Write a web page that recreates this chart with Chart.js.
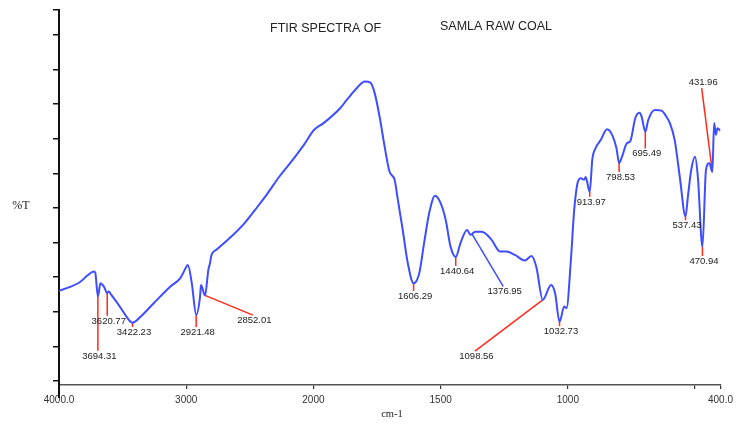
<!DOCTYPE html>
<html>
<head>
<meta charset="utf-8">
<script src="https://cdn.jsdelivr.net/npm/chart.js@4.4.1/dist/chart.umd.min.js"></script>
<style>
  html, body { margin: 0; padding: 0; background: #fff; }
  #wrap { width: 738px; height: 424px; }
</style>
</head>
<body>
<div id="wrap"><canvas id="chart" width="738" height="424"></canvas></div>
<script>
// FTIR spectrum of Samla raw coal
const WAVENUMBER = [
  4000, 3837, 3772, 3726, 3715, 3694.31, 3674, 3648, 3620.77, 3609, 3590, 3513, 3461, 3422.23,
  3357, 3254, 3124, 3046, 2995, 2987, 2956, 2921.48, 2891, 2884, 2852.01, 2826, 2813, 2801,
  2762, 2645, 2541, 2438, 2360, 2269, 2152, 2075, 1998, 1960, 1895, 1869, 1830, 1798, 1776,
  1759, 1740, 1720, 1701, 1681, 1668, 1649, 1629, 1606.29, 1584, 1565, 1545, 1522, 1500, 1480,
  1461, 1440.64, 1422, 1396, 1383, 1364, 1338, 1299, 1267, 1241, 1208, 1169, 1143, 1124,
  1098.56, 1066, 1050, 1032.73, 1014, 1005, 988, 975, 962, 949, 936, 930, 913.97, 904, 891,
  871, 846, 826, 809, 798.53, 787, 768, 755, 735, 719, 710, 695.49, 684, 658, 632, 613, 599,
  580, 560, 537.43, 528, 515, 500, 489, 470.94, 457, 444, 431.96, 425, 418, 412, 400
];
const TRANSMITTANCE = [
  26.0, 28.5, 30.6, 31.6, 31.3, 24.4, 28.2, 27.3, 25.4, 25.8, 24.9, 21.0, 18.1, 16.8,
  18.6, 22.5, 27.3, 29.7, 33.2, 33.5, 28.2, 19.1, 24.4, 27.7, 24.7, 32.1, 34.0, 36.4,
  37.9, 41.7, 45.6, 50.4, 54.2, 59.0, 64.4, 68.2, 72.5, 74.5, 78.8, 81.2, 84.6, 86.5, 86.2,
  83.1, 76.4, 67.7, 60.5, 58.1, 52.3, 43.6, 34.0, 28.2, 31.1, 39.8, 48.5, 53.5, 51.4, 46.5,
  38.8, 35.8, 39.8, 43.6, 42.2, 43.1, 43.1, 40.7, 37.4, 37.4, 36.4, 34.8, 36.1, 33.0,
  23.4, 27.7, 25.3, 17.1, 21.5, 21.0, 35.0, 49.4, 57.1, 58.6, 58.1, 58.9, 54.6, 63.9, 67.3,
  69.6, 72.7, 71.1, 67.3, 63.0, 64.8, 68.7, 69.2, 75.9, 77.5, 76.4, 72.0, 75.4, 78.3, 78.1, 76.4, 74.5,
  69.6, 59.0, 47.5, 53.3, 61.0, 64.8, 59.0, 38.8, 61.0, 62.9, 60.4, 74.5, 71.1, 73.0, 72.3
];

// peak annotations: where the leader starts on the curve and where its label sits
const PEAK_LABELS = ['3694.31', '3620.77', '3422.23', '2921.48', '2852.01', '1606.29', '1440.64',
  '1376.95', '1098.56', '1032.73', '913.97', '798.53', '695.49', '537.43', '470.94', '431.96'];
const PEAK_WN = [3694.31, 3620.77, 3422.23, 2921.48, 2852.01, 1606.29, 1440.64,
  1376.95, 1098.56, 1032.73, 913.97, 798.53, 695.49, 537.43, 470.94, 431.96];
const PEAK_T = [24.4, 25.4, 16.8, 19.1, 24.7, 28.2, 35.8, 42.5, 23.4, 17.1, 54.6, 63.0, 72.0, 47.5, 38.8, 60.4];
const LABEL_WN = [3694.31, 3620.77, 3422.23, 2921.48, 2476, 1606.29, 1440.64,
  1254, 1365, 1032.73, 913.97, 798.53, 695.49, 537.43, 470.94, 474];
const LABEL_T = [8.7, 18.8, 15.6, 15.6, 19.0, 26.0, 33.2, 27.3, 8.6, 15.8, 53.2, 60.4, 67.2, 46.4, 36.1, 84.7];
const LABEL_ABOVE = [false, false, false, false, false, false, false,
  false, false, false, false, false, false, false, false, true];
const LEADER_BLUE = [false, false, false, false, false, false, false,
  true, false, false, false, false, false, false, false, false];

const X_TICK_VALUES = [4000, 3000, 2000, 1500, 1000, 500, 400];
const X_TICK_LABELS = ['4000.0', '3000', '2000', '1500', '1000', '', '400.0'];
const Y_TICK_VALUES = [0, 10, 20, 30, 40, 50, 60, 70, 80, 90, 100, 107.2];

const BLUE = '#3d4dff';
const RED = '#ff2a1a';

// the instrument plot halves its scale above 2000 cm-1
function toUnit(w) {
  return w >= 2000 ? (4000 - w) / 2 : 1000 + (2000 - w);
}

class FtirScale extends Chart.LinearScale {
  static id = 'ftir';
  static defaults = Chart.LinearScale.defaults;

  buildTicks() {
    this.start = this.min;
    this.end = this.max;
    return X_TICK_VALUES.map(v => ({value: v}));
  }

  getPixelForValue(value) {
    if (value === null || value === undefined || isNaN(value)) {
      return NaN;
    }
    return this.getPixelForDecimal(toUnit(value) / 2600);
  }

  getValueForPixel(pixel) {
    const u = this.getDecimalForPixel(pixel) * 2600;
    return u <= 1000 ? 4000 - 2 * u : 3000 - u;
  }
}
Chart.register(FtirScale);

const spectrum = WAVENUMBER.map((w, i) => ({x: w, y: TRANSMITTANCE[i]}));

const leaders = PEAK_WN.map((w, i) => ({
  data: [{x: w, y: PEAK_T[i]}, {x: LABEL_WN[i], y: LABEL_T[i]}],
  borderColor: LEADER_BLUE[i] ? BLUE : RED,
  borderWidth: 1.5,
  pointRadius: 0,
  tension: 0
}));

const annotate = {
  id: 'annotate',
  afterDraw(chart) {
    const {ctx, chartArea} = chart;
    const x = chart.scales.x;
    const y = chart.scales.y;
    ctx.save();

    // y axis runs a little past the x axis
    ctx.strokeStyle = '#111';
    ctx.lineWidth = 2;
    ctx.beginPath();
    ctx.moveTo(chartArea.left, chartArea.bottom);
    ctx.lineTo(chartArea.left, chartArea.bottom + 13);
    ctx.stroke();

    ctx.fillStyle = '#222';
    ctx.font = '12.5px "Liberation Sans", Arial, sans-serif';
    ctx.textBaseline = 'middle';
    ctx.textAlign = 'left';
    ctx.fillText('FTIR SPECTRA OF', 270, 29);
    ctx.fillText('SAMLA RAW COAL', 440, 27);

    ctx.textAlign = 'center';
    ctx.font = '12px "Liberation Serif", "Times New Roman", serif';
    ctx.fillText('%T', 21, 206);
    ctx.font = '10.5px "Liberation Serif", "Times New Roman", serif';
    ctx.fillText('cm-1', 392, 414);

    ctx.font = '9.5px "Liberation Sans", Arial, sans-serif';
    PEAK_LABELS.forEach((txt, i) => {
      ctx.textBaseline = LABEL_ABOVE[i] ? 'bottom' : 'top';
      ctx.fillText(txt, x.getPixelForValue(LABEL_WN[i]) + 1.5, y.getPixelForValue(LABEL_T[i]) + (LABEL_ABOVE[i] ? -1 : 0.5));
    });
    ctx.restore();
  }
};

new Chart(document.getElementById('chart'), {
  type: 'line',
  data: {
    datasets: [{
      data: spectrum,
      borderColor: BLUE,
      borderWidth: 2,
      pointRadius: 0,
      cubicInterpolationMode: 'monotone'
    }].concat(leaders)
  },
  options: {
    responsive: false,
    animation: false,
    devicePixelRatio: 1,
    layout: {padding: {top: 10, right: 10, left: 0, bottom: 0}},
    plugins: {
      legend: {display: false},
      title: {display: false},
      tooltip: {enabled: false}
    },
    scales: {
      x: {
        type: 'ftir',
        min: 400,
        max: 4000,
        afterFit: scale => { scale.height = 39; },
        border: {color: '#555', width: 1.5},
        grid: {drawOnChartArea: false, drawTicks: true, tickLength: 4, color: '#333', lineWidth: 1.2},
        ticks: {
          autoSkip: false,
          maxRotation: 0,
          padding: 5,
          color: '#333',
          font: {family: '"Liberation Sans", Arial, sans-serif', size: 10},
          callback: value => X_TICK_LABELS[X_TICK_VALUES.indexOf(value)]
        }
      },
      y: {
        type: 'linear',
        min: -1.2,
        max: 107.2,
        afterFit: scale => { scale.width = 59; },
        afterBuildTicks: scale => { scale.ticks = Y_TICK_VALUES.map(v => ({value: v})); },
        border: {color: '#111', width: 2},
        grid: {drawOnChartArea: false, drawTicks: true, tickLength: 6, color: '#111', lineWidth: 1.5},
        ticks: {padding: 0, callback: () => ''}
      }
    }
  },
  plugins: [annotate]
});
</script>
</body>
</html>
